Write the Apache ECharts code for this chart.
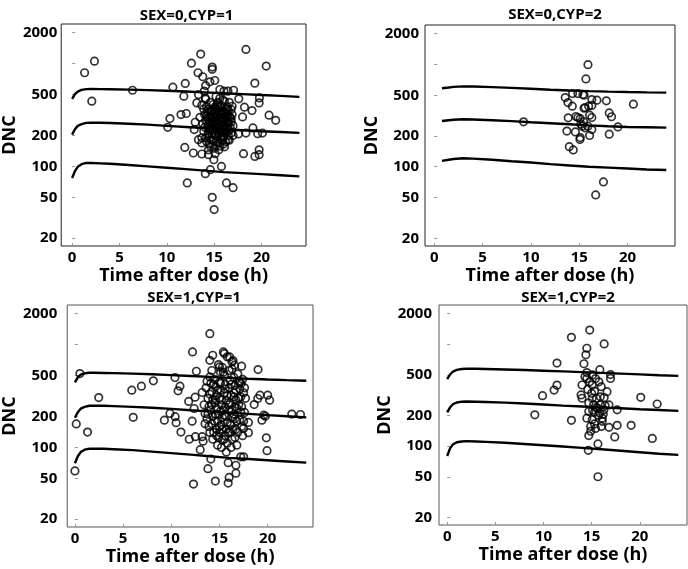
<!DOCTYPE html>
<html>
<head>
<meta charset="utf-8">
<script src="https://cdn.jsdelivr.net/npm/echarts@6/dist/echarts.min.js"></script>
<style>html,body{margin:0;padding:0;background:#fff}#c{width:688px;height:569px}</style>
</head>
<body>
<div id="c"></div>
<script>
// ---------- data ----------
const panelTitles = ['SEX=0,CYP=1', 'SEX=0,CYP=2', 'SEX=1,CYP=1', 'SEX=1,CYP=2'];
const xTicks = [0, 5, 10, 15, 20];
const yTicks = [20, 50, 100, 200, 500, 1000, 2000];
const yLabels = [20, 50, 100, 200, 500, 2000];

// prediction-interval lines (5th, 50th, 95th percentiles)
const lineTime = [0, 0.3, 0.6, 1, 1.5, 2, 3, 4, 6, 8, 10, 12, 14, 16, 18, 20, 22, 24];
const lineTime2 = [0.8, 1.5, 2, 3, 4, 6, 8, 10, 12, 14, 16, 18, 20, 22, 24];

const p1Upper = [455, 505, 535, 555, 565, 566, 565, 563, 558, 552, 545, 535, 525, 515, 505, 495, 485, 475];
const p1Median = [204, 230, 248, 258, 265, 266, 266, 264, 260, 255, 248, 242, 236, 230, 225, 220, 216, 212];
const p1Lower = [77, 90, 99, 105, 108, 108, 107, 106, 103, 100, 97, 94, 91, 88, 86, 84, 82, 80];

const p2Upper = [585, 595, 603, 610, 608, 600, 590, 578, 566, 556, 548, 542, 537, 533, 530];
const p2Median = [280, 285, 288, 291, 290, 285, 279, 272, 266, 260, 254, 249, 245, 243, 241];
const p2Lower = [114, 117, 119, 121, 120, 117, 113, 110, 106, 103, 100, 98, 96, 94, 93];

const p3Upper = [429, 480, 510, 525, 532, 532, 530, 528, 522, 515, 505, 495, 485, 475, 466, 458, 451, 445];
const p3Median = [194, 220, 238, 248, 254, 255, 254, 252, 248, 243, 237, 230, 224, 218, 212, 206, 201, 196];
const p3Lower = [70, 82, 90, 95, 97, 97, 97, 96, 94, 91, 88, 85, 82, 79, 77, 75, 73, 71];

const p4Upper = [454, 505, 540, 560, 572, 575, 574, 571, 565, 558, 550, 542, 533, 524, 515, 506, 497, 489];
const p4Median = [214, 240, 258, 268, 273, 274, 273, 271, 267, 262, 256, 250, 245, 240, 235, 230, 226, 222];
const p4Lower = [80, 95, 104, 109, 111, 112, 111, 110, 108, 105, 102, 99, 96, 93, 90, 87, 84, 82];

// observed points: [time (h), DNC]
const p1Obs = [
 [1.32,815],[2.36,1057],[2.08,431],[6.38,551],[10.64,590],[10.33,292],[10.1,240],[11.95,641],[11.8,482],[11.5,319],
 [12.06,327],[11.9,153],[12.16,69],[12.6,1011],[13.58,1239],[13.3,815],[13.8,745],[12.8,135],[12.9,228],[13.0,269],
 [14.8,925],[14.8,880],[15.07,685],[14.55,665],[14.1,612],[13.96,540],[13.34,500],[13.17,415],[13.7,394],[14.07,464],
 [15.6,560],[16.04,540],[16.46,540],[17.05,551],[15.94,441],[17.6,454],[16.9,385],[16.8,357],[18.2,377],[19.3,646],
 [19.78,464],[19.75,415],[19.0,349],[18.0,303],[19.1,237],[18.36,211],[17.57,207],[19.6,208],[20.1,211],[20.8,315],
 [21.5,281],[20.5,946],[18.36,1374],[19.75,145],[19.75,130],[19.3,125],[18.1,133],[15.77,100],[16.3,69],[17.0,62],
 [14.07,85],[14.6,93],[14.8,50],[15.0,38],[14.97,116],[15.1,133],[14.4,130],[13.7,132],[13.34,182],[13.7,169],
 [14.6,157],[15.6,157],[16.46,182],[16.8,211],[17.0,249],[16.8,290],[16.2,224],[15.94,193],
 [14.2,380],[14.3,340],[14.4,300],[14.5,270],[14.3,240],[14.4,210],[14.5,190],[14.6,350],[14.7,320],[14.8,290],
 [14.6,260],[14.7,230],[14.8,205],[14.9,180],[14.5,165],[14.9,400],[15.0,360],[15.1,330],[15.0,300],[15.1,275],
 [15.0,250],[15.2,225],[15.1,200],[15.3,175],[15.2,160],[15.4,420],[15.4,380],[15.5,340],[15.3,310],[15.5,285],
 [15.4,255],[15.6,235],[15.5,210],[15.7,190],[15.6,170],[15.8,390],[15.9,350],[15.8,320],[16.0,290],[15.9,265],
 [16.0,240],[16.1,215],[16.0,195],[16.2,175],[16.3,360],[16.4,320],[16.3,290],[16.5,265],[16.4,240],[16.6,225],
 [16.5,200],[16.7,300],[16.8,270],[14.1,450],[14.0,320],[14.1,280],[13.9,220],[15.2,480],[15.6,460],[16.1,430],
 [16.6,420],[15.0,150],[15.5,145],[16.1,155],[14.4,145],[13.7,190],[13.5,300],[13.8,260],[14.2,175],[14.9,225],
 [15.3,395],[15.7,300],[16.2,330],[14.6,420],[15.2,265],[15.8,215],[16.4,270],[14.3,275],[15.6,385],[16.0,165],
 [13.9,360],[14.0,240],[14.2,310],[14.3,200],[14.4,360],[14.5,230],[14.6,300],[14.7,180],[14.8,350],[14.9,270],
 [15.0,205],[15.1,380],[15.2,300],[15.3,240],[15.4,195],[15.5,260],[15.6,320],[15.7,230],[15.8,275],[15.9,180],
 [16.0,340],[16.1,250],[16.2,300],[16.3,210],[16.4,380],[16.5,300],[16.6,180],[16.7,240],[16.9,320],[17.0,200],
 [14.1,190],[14.4,250],[15.3,350],[15.9,230],[16.5,350]
];
const p2Obs = [
 [15.9,995],[15.69,722],[14.31,519],[14.86,519],[15.38,508],[15.5,500],[13.55,474],[13.83,424],[14.28,391],[16.3,454],
 [16.83,447],[17.8,441],[20.6,409],[16.3,398],[15.97,391],[15.6,379],[15.5,373],[16.07,319],[16.3,303],[18.1,336],
 [18.34,308],[13.86,301],[14.66,310],[14.86,303],[15.1,296],[15.45,275],[15.17,261],[9.24,275],[15.3,249],[15.6,240],
 [15.9,249],[16.3,231],[19.0,245],[13.72,223],[14.6,219],[16.07,202],[18.1,208],[15.1,193],[15.07,185],[13.97,157],
 [14.38,146],[17.5,71],[16.7,53]
];
const p3Obs = [
 [0.52,523],[0.14,169],[1.31,141],[0.0,59],[2.47,305],[5.9,360],[6.9,394],[8.14,444],[6.05,196],[9.28,184],
 [9.86,214],[10.4,199],[10.5,174],[10.38,479],[10.9,394],[10.7,355],[11.0,141],[12.2,849],[12.6,551],[11.8,280],
 [11.86,120],[12.5,127],[12.16,180],[12.37,239],[12.47,308],[13.0,95],[12.3,44],[13.8,62],[14.1,77],[14.57,47],
 [15.9,45],[16.0,51],[16.7,56],[16.7,67],[15.9,71],[14.0,1279],[14.0,704],[14.3,788],[15.4,849],[15.5,818],
 [16.05,759],[16.3,679],[16.56,631],[17.3,617],[19.0,572],[15.0,607],[15.1,543],[14.0,485],[17.25,418],[19.2,322],
 [20.0,322],[20.2,288],[18.97,299],[18.6,261],[19.6,206],[19.4,184],[19.76,201],[22.5,211],[23.4,209],[19.86,124],
 [19.93,93],[18.0,175],[18.0,139],[17.6,219],[17.5,153],[17.2,81],[17.5,81],[13.2,127],[13.3,115],[13.5,214],
 [13.2,342],
 [13.6,380],[13.8,300],[13.9,250],[13.7,190],[13.9,160],[14.1,420],[14.2,350],[14.3,290],[14.1,230],[14.3,200],
 [14.2,170],[14.4,140],[14.5,460],[14.6,390],[14.7,320],[14.5,270],[14.7,240],[14.6,210],[14.8,180],[14.7,150],
 [14.9,125],[14.8,105],[15.0,430],[15.1,360],[15.0,300],[15.2,260],[15.1,225],[15.3,195],[15.2,165],[15.0,140],
 [15.3,118],[15.2,100],[15.5,500],[15.6,410],[15.5,340],[15.7,285],[15.6,245],[15.5,205],[15.8,175],[15.7,150],
 [15.6,130],[15.8,110],[15.7,90],[16.0,560],[16.1,450],[16.0,380],[16.2,320],[16.1,270],[16.0,230],[16.3,195],
 [16.2,165],[16.1,140],[16.3,120],[16.2,100],[16.5,480],[16.6,400],[16.5,340],[16.7,290],[16.6,250],[16.5,210],
 [16.8,180],[16.7,150],[16.6,125],[16.8,105],[17.0,440],[17.1,370],[17.2,310],[17.0,260],[17.2,220],[17.1,185],
 [17.3,160],[17.4,130],[17.6,380],[17.5,340],[16.4,700],[15.8,760],[15.3,600],[14.9,640],[16.9,520],[17.4,460],
 [13.4,260],[13.5,170],[13.7,440],[13.8,210],[14.0,330],[14.0,140],[14.2,260],[14.3,120],[14.4,410],[14.5,180],
 [14.6,290],[14.7,130],[14.8,360],[14.9,210],[15.0,160],[15.1,420],[15.2,290],[15.3,150],[15.4,230],[15.5,120],
 [15.6,370],[15.7,200],[15.8,320],[15.9,140],[16.0,260],[16.1,170],[16.2,410],[16.3,230],[16.4,150],[16.5,310],
 [16.6,190],[16.7,360],[16.8,240],[16.9,140],[17.0,300],[17.1,430],[17.3,250],[17.5,180],[17.7,300],[15.4,540],
 [16.3,580],[14.2,560]
];
const p4Obs = [
 [14.8,1377],[12.9,1170],[16.3,1007],[14.5,914],[14.4,788],[11.4,654],[14.2,644],[15.85,563],[14.5,527],[16.96,504],
 [16.96,461],[11.4,397],[11.1,355],[9.9,313],[9.1,203],[12.9,179],[20.1,301],[21.8,259],[21.3,119],[19.1,160],
 [17.65,160],[17.4,123],[15.65,105],[14.65,91],[15.65,50],[17.65,227],[14.7,127],[14.9,140],[15.4,149],[16.6,342],
 [16.0,383],[15.75,428],[15.06,398],[14.0,398],[13.9,318],[14.0,295],[14.8,428],[14.5,461],[15.3,347],[15.06,295],
 [14.5,188],[14.7,219],[15.06,182],[15.3,165],[16.0,156],[16.8,153],[16.8,254],[16.1,188],[16.27,227],[15.6,235],
 [15.9,254],[15.85,211],[15.5,295],[15.2,254],[14.9,156],[16.1,175],[14.3,480],[15.1,500],[15.4,460],[14.6,360],
 [15.0,330],[15.5,240],[15.7,200],[16.2,205],[15.3,215],[16.4,250],[14.7,265],[15.9,305],[16.3,300],[15.1,225]
];

const panels = [
 {obs: p1Obs, t: lineTime,  lines: [p1Upper, p1Median, p1Lower]},
 {obs: p2Obs, t: lineTime2, lines: [p2Upper, p2Median, p2Lower]},
 {obs: p3Obs, t: lineTime,  lines: [p3Upper, p3Median, p3Lower]},
 {obs: p4Obs, t: lineTime,  lines: [p4Upper, p4Median, p4Lower]}
];

// ---------- layout ----------
const FONT = 'Open Sans';
const layout = [
 {left: 57,  top: 24,  width: 249, height: 222, xMin: -1.15, xMax: 24.7, labMargin: 4,  nameGap: 35, titleY: 3,   border: '#222'},
 {left: 425, top: 25,  width: 250, height: 221, xMin: -0.95, xMax: 24.9, labMargin: 6,  nameGap: 39, titleY: 2,   border: '#222'},
 {left: 65,  top: 305, width: 248, height: 222, xMin: -0.8,  xMax: 24.7, labMargin: 10, nameGap: 42, titleY: 285, border: '#555'},
 {left: 439, top: 305, width: 248, height: 220, xMin: -0.85, xMax: 24.9, labMargin: 7,  nameGap: 42, titleY: 285, border: '#555'}
];

const option = {
  animation: false,
  backgroundColor: '#fff',
  title: [], grid: [], xAxis: [], yAxis: [], series: []
};

layout.forEach((g, i) => {
  option.title.push({
    text: panelTitles[i], left: g.left + g.width / 2, top: g.titleY, textAlign: 'center',
    textStyle: {fontFamily: FONT, fontWeight: 'bold', fontSize: 15, color: '#000'}
  });
  option.grid.push({
    left: g.left, top: g.top, width: g.width, height: g.height,
    show: true, borderColor: g.border, borderWidth: 1, backgroundColor: 'transparent'
  });
  option.xAxis.push({
    type: 'value', gridIndex: i, min: g.xMin, max: g.xMax,
    name: 'Time after dose (h)', nameLocation: 'middle', nameGap: 21,
    nameTextStyle: {fontFamily: FONT, fontWeight: 'bold', fontSize: 18, color: '#000'},
    axisLine: {show: false},
    axisTick: {show: true, inside: true, length: 3, customValues: xTicks, lineStyle: {color: '#999'}},
    axisLabel: {customValues: xTicks, margin: 4, fontFamily: FONT, fontWeight: 'bold', fontSize: 15, color: '#000'},
    splitLine: {show: false}
  });
  option.yAxis.push({
    type: 'log', logBase: 10, gridIndex: i, min: 16.8, max: 2430,
    name: 'DNC', nameLocation: 'middle', nameRotate: 90, nameGap: g.nameGap,
    nameTextStyle: {fontFamily: FONT, fontWeight: 'bold', fontSize: 18, color: '#000'},
    axisLine: {show: false},
    axisTick: {show: true, inside: true, length: 3, customValues: yTicks, lineStyle: {color: '#999'}},
    axisLabel: {customValues: yLabels, margin: g.labMargin, formatter: v => String(Math.round(v)),
      fontFamily: FONT, fontWeight: 'bold', fontSize: 15, color: '#000'},
    splitLine: {show: false}
  });
  const p = panels[i];
  p.lines.forEach(arr => {
    option.series.push({
      type: 'line', xAxisIndex: i, yAxisIndex: i, showSymbol: false, symbol: 'none',
      data: p.t.map((t, k) => [t, arr[k]]),
      lineStyle: {color: '#000', width: 2.4}, silent: true
    });
  });
  option.series.push({
    type: 'scatter', xAxisIndex: i, yAxisIndex: i, symbol: 'circle', symbolSize: 7.5,
    data: p.obs,
    itemStyle: {color: 'rgba(0,0,0,0)', borderColor: '#000', borderWidth: 1.7}
  });
});

const chart = echarts.init(document.getElementById('c'), null, {renderer: 'canvas'});
chart.setOption(option);
</script>
</body>
</html>
